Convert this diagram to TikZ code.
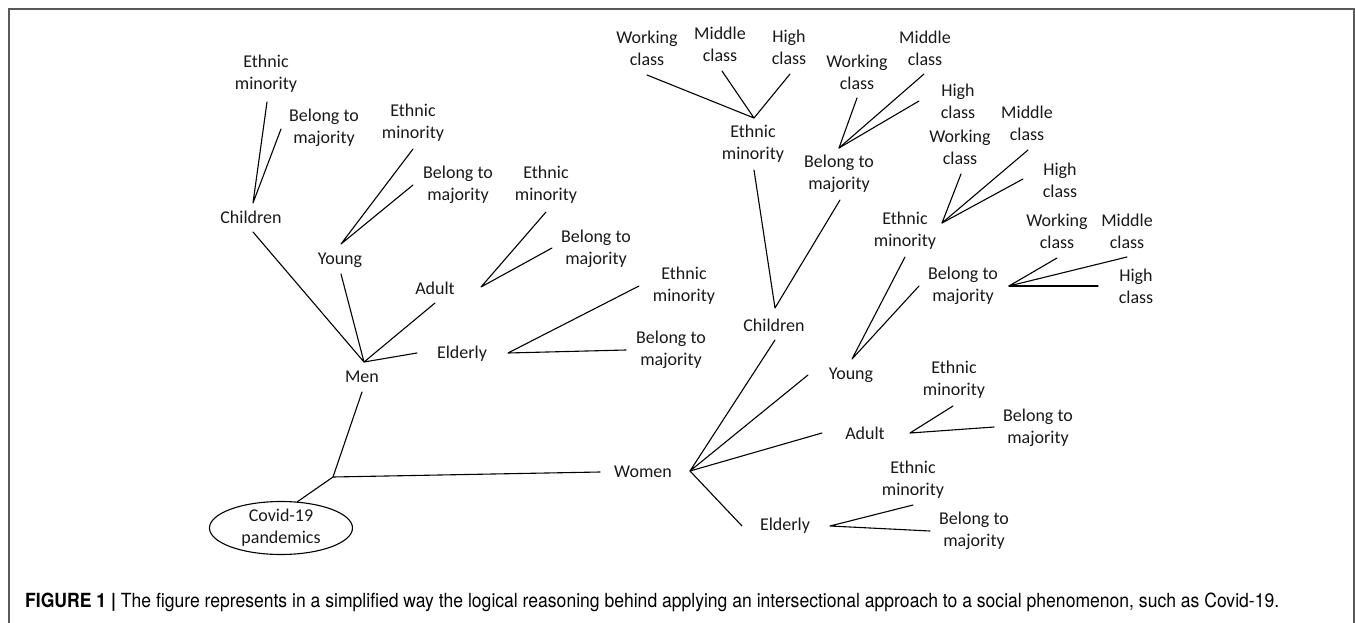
\documentclass[tikz,border=0pt]{standalone}
\usepackage{fontspec}
\setmainfont{Carlito}
\newfontfamily\capfont{TeX Gyre Heros}
\usetikzlibrary{shapes.geometric}
\begin{document}
\begin{tikzpicture}[x=1pt,y=-1pt,
  lbl/.style={font=\fontsize{18}{22}\selectfont, align=center, inner sep=0pt, text=black!90},
  ln/.style={draw=black, line width=1.1pt, line cap=round, line join=round},
  frame/.style={draw=black!65, line width=1.2pt}]
\useasboundingbox (0,0) rectangle (1355,623);
\draw[frame] (9,640) -- (9,9) -- (1354,9) -- (1354,640);

% ---------- Men branch texts ----------
\node[lbl] (cEM) at (266,74) {Ethnic\\minority};
\node[lbl] (cBM) at (324,128) {Belong to\\majority};
\node[lbl] (children) at (251,217) {Children};
\node[lbl] (yEM) at (413,123) {Ethnic\\minority};
\node[lbl] (yBM) at (458,185) {Belong to\\majority};
\node[lbl] (young) at (340,260) {Young};
\node[lbl] (aEM) at (546,185) {Ethnic\\minority};
\node[lbl] (aBM) at (596,249) {Belong to\\majority};
\node[lbl] (adult) at (435,288) {Adult};
\node[lbl] (men) at (362,377) {Men};
\node[lbl] (elderly) at (462,354) {Elderly};
\node[lbl] (eEM) at (684,286) {Ethnic\\minority};
\node[lbl] (eBM) at (671,350) {Belong to\\majority};
\node[lbl, draw=black, line width=1.1pt, ellipse, minimum width=143pt, minimum height=53pt] (covid) at (281,528) {Covid-19\\pandemics};

% ---------- Women branch texts ----------
\node[lbl] (women) at (643,472) {Women};
\node[lbl] (wchildren) at (774,325) {Children};
\node[lbl] (wcEM) at (753,144) {Ethnic\\minority};
\node[lbl] (wcBM) at (839,174) {Belong to\\majority};
\node[lbl] (wc1) at (647,48) {Working\\class};
\node[lbl] (mc1) at (720,44) {Middle\\class};
\node[lbl] (hc1) at (789,47) {High\\class};
\node[lbl] (wc2) at (857,72) {Working\\class};
\node[lbl] (mc2) at (925,48) {Middle\\class};
\node[lbl] (hc2) at (958,101) {High\\class};
\node[lbl] (wyoung) at (851,375) {Young};
\node[lbl] (wyEM) at (905,231) {Ethnic\\minority};
\node[lbl] (wc3) at (960,147) {Working\\class};
\node[lbl] (mc3) at (1027,123) {Middle\\class};
\node[lbl] (hc3) at (1060,180) {High\\class};
\node[lbl] (wyBM) at (963,286) {Belong to\\majority};
\node[lbl] (wc4) at (1057,231) {Working\\class};
\node[lbl] (mc4) at (1127,231) {Middle\\class};
\node[lbl] (hc4) at (1136,286) {High\\class};
\node[lbl] (wadult) at (865,433) {Adult};
\node[lbl] (waEM) at (954,380) {Ethnic\\minority};
\node[lbl] (waBM) at (1038,428) {Belong to\\majority};
\node[lbl] (welderly) at (785,526) {Elderly};
\node[lbl] (weEM) at (913,480) {Ethnic\\minority};
\node[lbl] (weBM) at (974,531) {Belong to\\majority};

% ---------- connector end points ----------
\coordinate (chTop) at (253,203);
\coordinate (cEMb) at (267,102);
\coordinate (cBMb) at (281,129);
\coordinate (yTop) at (341,244);
\coordinate (yEMb) at (413,149);
\coordinate (yBMb) at (413,185);
\coordinate (aApex) at (481,287);
\coordinate (aEMb) at (546,212);
\coordinate (aBMb) at (552,248);
\coordinate (menApex) at (364,362);
\coordinate (chBot) at (253,232);
\coordinate (yBot) at (341,274);
\coordinate (aBot) at (435,303);
\coordinate (eLeft) at (417,353);
\coordinate (eApex) at (508,353);
\coordinate (eEMb) at (639,286);
\coordinate (eBMb) at (626,350);
\coordinate (menBot) at (362,392);
\coordinate (junc) at (333,477);
\coordinate (wLeft) at (600,472);
\coordinate (covTop) at (297,502);

\coordinate (wApex) at (690,471);
\coordinate (wchBot) at (775,340);
\coordinate (wyLeft) at (808,375);
\coordinate (waLeft) at (822,433);
\coordinate (weLeft) at (742,526);
\coordinate (wchTop) at (775,308);
\coordinate (wcEMb) at (754,170);
\coordinate (wcBMb) at (840,200);
\coordinate (wcEMa) at (754,118);
\coordinate (wc1b) at (647,75);
\coordinate (mc1b) at (722,71);
\coordinate (hc1b) at (790,74);
\coordinate (wcBMa) at (839,148);
\coordinate (wc2b) at (857,98);
\coordinate (mc2b) at (924,74);
\coordinate (hc2b) at (919,101);
\coordinate (wyTop) at (852,359);
\coordinate (wyEMb) at (905,257);
\coordinate (wyBMb) at (919,286);
\coordinate (wyEMa) at (942,223);
\coordinate (wc3b) at (961,174);
\coordinate (mc3b) at (1028,150);
\coordinate (hc3b) at (1023,179);
\coordinate (wyBMa) at (1009,286);
\coordinate (wc4b) at (1057,258);
\coordinate (mc4b) at (1127,257);
\coordinate (hc4b) at (1098,286);
\coordinate (waApex) at (910,433);
\coordinate (waEMb) at (953,406);
\coordinate (waBMb) at (994,427);
\coordinate (weApex) at (830,526);
\coordinate (weEMb) at (913,505);
\coordinate (weBMb) at (930,531);

% ---------- connectors: Men ----------
\draw[ln] (cEMb) -- (chTop) -- (cBMb);
\draw[ln] (yEMb) -- (yTop) -- (yBMb);
\draw[ln] (aEMb) -- (aApex) -- (aBMb);
\draw[ln] (chBot) -- (menApex) -- (yBot);
\draw[ln] (aBot) -- (menApex) -- (eLeft);
\draw[ln] (eEMb) -- (eApex) -- (eBMb);
\draw[ln] (menBot) -- (junc) -- (wLeft);
\draw[ln] (junc) -- (covTop);

% ---------- connectors: Women ----------
\draw[ln] (wchBot) -- (wApex) -- (wyLeft);
\draw[ln] (waLeft) -- (wApex) -- (weLeft);
\draw[ln] (wcEMb) -- (wchTop) -- (wcBMb);
\draw[ln] (wc1b) -- (wcEMa) -- (mc1b);
\draw[ln] (wcEMa) -- (hc1b);
\draw[ln] (wc2b) -- (wcBMa) -- (mc2b);
\draw[ln] (wcBMa) -- (hc2b);
\draw[ln] (wyEMb) -- (wyTop) -- (wyBMb);
\draw[ln] (wc3b) -- (wyEMa) -- (mc3b);
\draw[ln] (wyEMa) -- (hc3b);
\draw[ln] (wc4b) -- (wyBMa) -- (mc4b);
\draw[ln] (wyBMa) -- (hc4b);
\draw[ln] (waEMb) -- (waApex) -- (waBMb);
\draw[ln] (weEMb) -- (weApex) -- (weBMb);

% ---------- caption ----------
\node[anchor=base west, inner sep=0pt, font=\capfont\fontsize{19.5}{22}\selectfont] (caption) at (25,607)
  {\resizebox{1254pt}{\height}{\textbf{FIGURE 1 |} The figure represents in a simplified way the logical reasoning behind applying an intersectional approach to a social phenomenon, such as Covid-19.}};
\end{tikzpicture}
\end{document}
